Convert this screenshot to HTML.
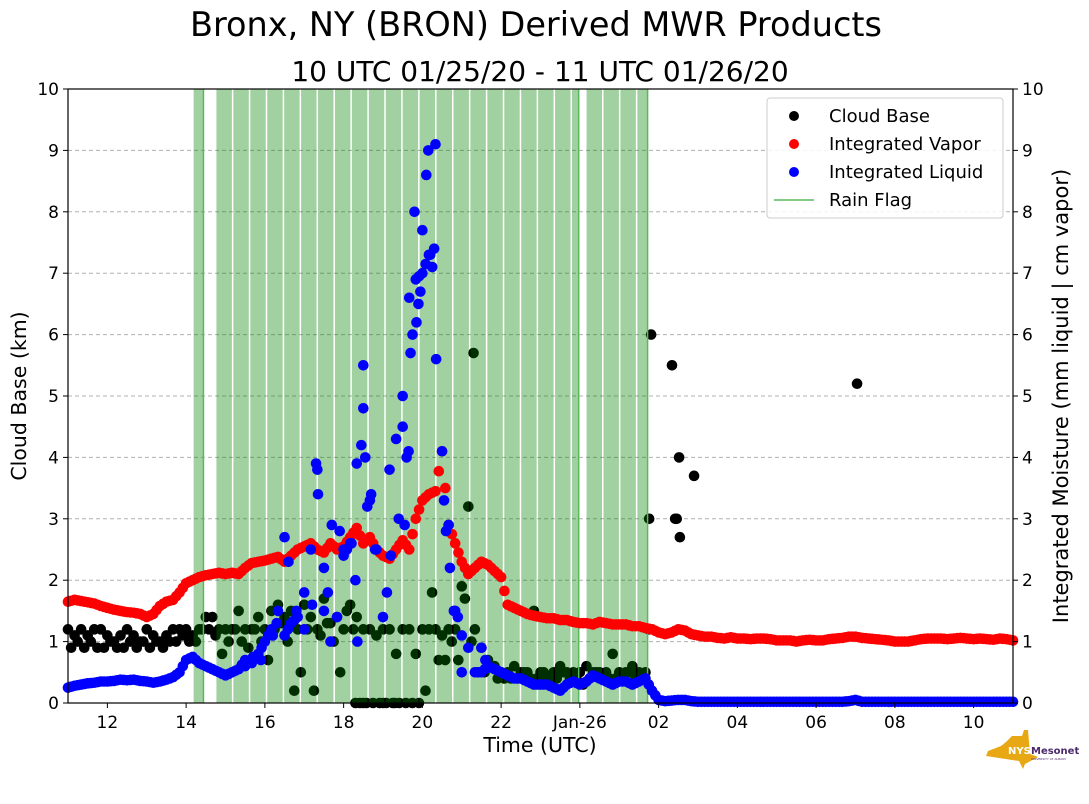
<!DOCTYPE html>
<html><head><meta charset="utf-8"><style>
body{margin:0;background:#fff;}
svg{display:block;font-family:"DejaVu Sans","Liberation Sans",sans-serif;}
</style></head><body>
<svg id="c" width="1089" height="804" viewBox="0 0 1089 804">
<text x="536" y="36" font-size="33.5" text-anchor="middle">Bronx, NY (BRON) Derived MWR Products</text>
<text x="540" y="81" font-size="28" text-anchor="middle">10 UTC 01/25/20 - 11 UTC 01/26/20</text>
<g id="grid"></g><g id="cb"></g><g id="rain"></g><g id="vap"></g><g id="liq"></g><g id="axes"></g>
<text x="26" y="396" font-size="20.5" text-anchor="middle" transform="rotate(-90 26 396)">Cloud Base (km)</text>
<text x="1068" y="396" font-size="21" text-anchor="middle" transform="rotate(-90 1068 396)">Integrated Moisture (mm liquid | cm vapor)</text>
<text x="540" y="752" font-size="20.5" text-anchor="middle">Time (UTC)</text>
<g>
<rect x="767" y="98" width="236" height="120" rx="3" fill="#fff" fill-opacity="0.85" stroke="#ccc"/>
<circle cx="794" cy="116" r="5" fill="black"/><text x="829" y="122" font-size="18">Cloud Base</text>
<circle cx="794" cy="144" r="5" fill="red"/><text x="829" y="150" font-size="18">Integrated Vapor</text>
<circle cx="794" cy="172" r="5" fill="blue"/><text x="829" y="178" font-size="18">Integrated Liquid</text>
<line x1="774" y1="200" x2="814" y2="200" stroke="#5cb85c" stroke-width="1.5"/><text x="829" y="206" font-size="18">Rain Flag</text>
</g>
<g>
<polygon points="1012,736 1022,736 1024,730 1028,730 1030,754 1038,757 1025,764 1023,769 1019,761 986,756 988,751 1001,746 1006,742" fill="#e8a814"/>
<text x="1008" y="754" font-size="10" font-weight="bold" fill="#fff">NYS</text>
<text x="1031" y="754" font-size="10" font-weight="bold" fill="#4b2a6b">Mesonet</text>
<text x="1031" y="760" font-size="3" fill="#4b2a6b">UNIVERSITY AT ALBANY</text>
</g>
</svg>
<script>
const vapor=[1.65,1.68,1.66,1.64,1.62,1.58,1.55,
1.52,1.5,1.48,1.47,1.45,1.4,
1.45,1.58,1.65,1.68,1.8,1.95,
2.0,2.05,2.08,2.1,2.12,2.1,
2.12,2.1,2.2,2.28,2.3,2.32,
2.35,2.38,2.3,2.4,2.5,2.55,
2.6,2.5,2.45,2.6,2.5,2.55,
2.7,2.85,2.6,2.7,2.5,2.4,
2.35,2.5,2.65,2.5,3.0,3.3,
3.4,3.45,4.1,2.9,2.6,2.3,
2.1,2.2,2.3,2.25,2.15,2.05,
1.6,1.55,1.5,1.45,1.42,1.4,
1.38,1.38,1.35,1.35,1.32,1.3,
1.3,1.28,1.32,1.3,1.28,1.28,
1.28,1.25,1.25,1.22,1.2,1.15,
1.12,1.15,1.2,1.18,1.12,1.1,
1.08,1.08,1.06,1.05,1.07,1.05,
1.05,1.04,1.05,1.05,1.04,1.02,
1.02,1.02,1.0,1.02,1.03,1.02,
1.02,1.04,1.05,1.06,1.08,1.08,
1.06,1.05,1.04,1.03,1.02,1.0,
1.0,1.0,1.02,1.04,1.05,1.05,
1.05,1.04,1.05,1.06,1.05,1.04,
1.05,1.04,1.03,1.05,1.04,1.02];
const liquid=[0.25,0.28,0.3,0.32,0.33,0.35,0.35,
0.36,0.38,0.37,0.38,0.36,0.35,
0.33,0.35,0.38,0.42,0.5,0.7,
0.75,0.65,0.6,0.55,0.5,0.45,
0.5,0.55,0.7,0.65,0.8,1.0,
1.2,1.5,1.1,1.3,1.4,1.8,
2.5,3.8,1.5,1.0,1.4,2.4,
2.6,3.9,4.8,3.3,2.5,1.4,
3.8,4.3,5.0,6.6,6.9,7.0,
7.3,9.1,4.1,2.9,1.5,0.5,
0.9,0.5,0.5,0.6,0.55,0.5,
0.45,0.4,0.4,0.35,0.3,0.3,
0.3,0.25,0.2,0.3,0.35,0.3,
0.35,0.45,0.4,0.35,0.3,0.35,
0.35,0.3,0.35,0.4,0.2,0.05,
0.03,0.04,0.05,0.05,0.03,0.02,
0.02,0.02,0.02,0.02,0.02,0.02,
0.02,0.02,0.02,0.02,0.02,0.02,
0.02,0.02,0.02,0.02,0.02,0.02,
0.02,0.02,0.02,0.02,0.03,0.05,
0.02,0.02,0.02,0.02,0.02,0.02,
0.02,0.02,0.02,0.02,0.02,0.02,
0.02,0.02,0.02,0.02,0.02,0.02,
0.02,0.02,0.02,0.02,0.02,0.02];
const liqExtraT=[20.15,20.1,19.8,20.0,19.9,19.85,20.3,20.35,19.7,19.75,18.5,18.45,18.55,17.3,17.35,19.5,19.6,19.65,18.2,18.8,19.1,19.2,16.5,16.6,17.7,17.9,18.0,18.3,18.6,18.7,17.5,16.8,17.0,17.2,17.6,18.35,19.4,19.55,20.55,20.6,20.7,20.8,20.9,21.0,21.5,21.6,16.2,16.3,15.9,15.5,15.7,20.25,20.2,19.95];
const liqExtraV=[9.0,8.6,8.0,7.7,6.5,6.2,7.4,5.6,5.7,6.0,5.5,4.2,4.0,3.9,3.4,4.5,4.0,4.1,2.6,2.5,1.8,2.4,2.7,2.3,2.9,2.8,2.5,2.0,3.2,3.4,2.2,1.5,1.2,1.6,1.8,1.0,3.0,2.9,3.3,2.8,2.2,1.5,1.4,1.1,0.9,0.7,1.1,1.3,0.7,0.6,0.75,7.1,7.3,6.7];
const cbStart=11.0;
const cbRow1=[1.2,1.1,1.2,1.1,1.2,1.2,1.1,1.0,1.1,1.2,1.1,1.0,1.2,1.1,1.0,1.1,1.2,1.2,1.2,1.1,1.2,1.4,
1.4,1.2,1.2,1.2,1.5,1.2,1.2,1.4,1.2,1.5,1.6,1.4,
1.5,1.2,1.6,1.4,1.2,1.7,1.3,1.4,1.2,1.6,1.4,
1.2,1.2,1.1,1.2,1.2,0.8,1.2,1.2,0.8,1.2,1.2,
1.2,1.1,1.2,1.2,1.9,3.2,1.2,0.9,0.7,0.6,0.5,
0.5,0.6,0.5,0.5,1.5,0.5,0.4,0.5,0.6,0.5,0.5,0.5,0.6,0.5,0.5,0.5,0.8,0.5,0.5,0.6,0.5,0.5,0.5];
const cbRow2=[0.9,1.0,0.9,1.0,0.9,0.9,1.0,0.9,0.9,1.0,0.9,1.0,0.9,1.0,0.9,1.0,1.0,1.1,1.0,1.0,1.2,1.2,
1.1,0.8,1.0,1.2,1.0,0.9,1.2,1.0,0.7,1.2,1.3,1.0,
0.2,0.5,1.2,0.2,1.1,1.3,1.0,0.5,1.5,1.2,0,
0,0,0,0,0,0,0,0,0,0.2,1.8,
0.7,0.7,1.0,0.7,1.7,1.0,0.5,0.5,0.6,0.4,0.4,
0.4,0.4,0.5,0.4,0.4,0.5,0.4,0.4,0.5,0.4,0.4,0.3,0.4,0.5,0.4,0.4,0.4,0.4,0.5,0.4,0.4,0.4,0.4];
const cbExtraT=[25.81,25.76,26.34,26.42,26.46,26.52,26.54,26.9,31.04,25.75,18.3,18.5,19.0,19.3,21.3];
const cbExtraV=[6.0,3.0,5.5,3.0,3.0,4.0,2.7,3.7,5.2,1.2,0,0,0,0,5.7];
const rainStart=[14.19,14.77,24.17];
const rainEnd=[14.44,23.97,25.72];
const yTicks=[0,1,2,3,4,5,6,7,8,9,10];
const xTickT=[12,14,16,18,20,22,24,26,28,30,32,34];
const xTickLabels=['12','14','16','18','20','22','Jan-26','02','04','06','08','10'];

const L=68,R=1013,T=89,B=703;
const X=t=>L+(t-11)*(R-L)/24;
const Y=v=>B-v*(B-T)/10;
const NS='http://www.w3.org/2000/svg';
function mk(g,tag,a){const e=document.createElementNS(NS,tag);for(const k in a)e.setAttribute(k,a[k]);document.getElementById(g).appendChild(e);return e;}
yTicks.forEach(v=>{if(v>0&&v<10){const l=mk('grid','line',{x1:L,x2:R,y1:Y(v),y2:Y(v),stroke:'#b0b0b0','stroke-dasharray':'4,3','stroke-width':1});

}});
function dot(g,t,v,col,name){const c=mk(g,'circle',{cx:X(t),cy:Y(v),r:5.3,fill:col});

}
cbRow1.forEach((v,i)=>{const t=cbStart+i/6;if(t<=25.7)dot('cb',t,v,'black','cloud-base-point');});
cbRow2.forEach((v,i)=>{const t=cbStart+i/6+0.08;if(t<=25.7)dot('cb',t,v,'black','cloud-base-point');});
cbExtraT.forEach((t,i)=>dot('cb',t,cbExtraV[i],'black','cloud-base-point'));
rainStart.forEach((s,i)=>{const e=rainEnd[i];const w=0.43;let t=s;
while(t<e-0.001){const t2=Math.min(t+w,e);const r=mk('rain','rect',{x:X(t),y:T,width:Math.max(X(t2)-X(t)-(t2<e?1.5:0),1),height:B-T,fill:'green','fill-opacity':0.37});

t=t2;}
const ln=mk('rain','line',{x1:X(e),x2:X(e),y1:T,y2:B,stroke:'#5cb85c','stroke-width':1.5});

});
vapor.forEach((v,i)=>{dot('vap',11+i/6,v,'red','vapor-point');if(i<vapor.length-1)dot('vap',11+i/6+1/12,(v+vapor[i+1])/2,'red','vapor-point');});
liquid.forEach((v,i)=>{dot('liq',11+i/6,v,'blue','liquid-point');if(i<liquid.length-1&&Math.abs(v-liquid[i+1])<0.3)dot('liq',11+i/6+1/12,(v+liquid[i+1])/2,'blue','liquid-point');});
liqExtraT.forEach((t,i)=>dot('liq',t,liqExtraV[i],'blue','liquid-point'));
const fr=mk('axes','rect',{x:L,y:T,width:R-L,height:B-T,fill:'none',stroke:'black','stroke-width':1.2});


yTicks.forEach(v=>{mk('axes','line',{x1:L-5,x2:L,y1:Y(v),y2:Y(v),stroke:'black'});mk('axes','line',{x1:R,x2:R+5,y1:Y(v),y2:Y(v),stroke:'black'});
const a=mk('axes','text',{x:L-9,y:Y(v)+6,'font-size':17,'text-anchor':'end'});a.textContent=v;


const b=mk('axes','text',{x:R+9,y:Y(v)+6,'font-size':17});b.textContent=v;

});
xTickT.forEach((t,i)=>{mk('axes','line',{x1:X(t),x2:X(t),y1:B,y2:B+5,stroke:'black'});
const a=mk('axes','text',{x:X(t),y:B+25,'font-size':17,'text-anchor':'middle'});a.textContent=xTickLabels[i];

});
</script>
</body></html>
